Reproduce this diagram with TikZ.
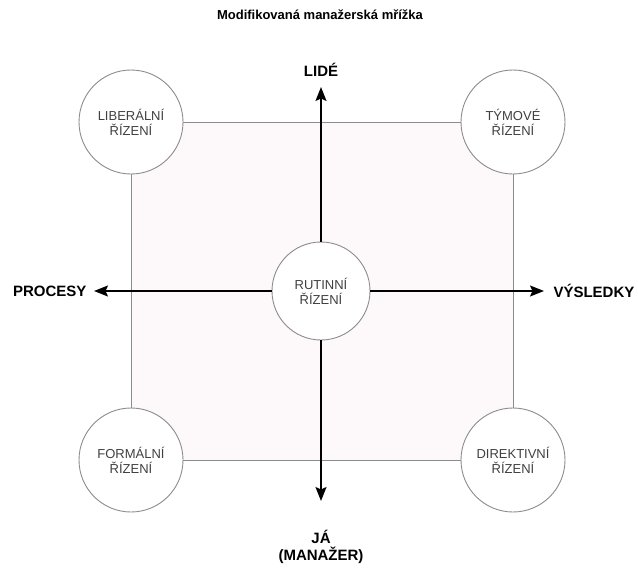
\documentclass[tikz,border=0pt]{standalone}
\usepackage{fontspec}
\setmainfont{Liberation Sans}
\usetikzlibrary{arrows.meta}
\definecolor{gridfill}{HTML}{FDF9FA}
\definecolor{gridline}{HTML}{8C8C8C}
\definecolor{labelgray}{HTML}{404040}

\begin{document}
\begin{tikzpicture}[x=1pt,y=-1pt,
    style/.style = {circle, draw=gridline, fill=white, line width=0.9pt,
                minimum size=#1, inner sep=0pt, outer sep=0pt,
                align=center, text=labelgray,
                font=\fontsize{13}{15}\selectfont},
    style/.default = 104pt,  % diameter of the corner circles
    axis/.style = {line width=1.5pt, -{Stealth[length=14pt,width=11pt,inset=2.5pt]}},
    side/.style = {draw=gridline, line width=0.9pt},
    tag/.style = {font=\bfseries\fontsize{15}{16.5}\selectfont, align=center}
                    ]
        \useasboundingbox (0,0) rectangle (638,570);
        \def\xl{131} \def\xr{513}
        \def\yt{122} \def\yb{460}
        \node[font=\bfseries\fontsize{13}{15}\selectfont] (title) at (320,15) {Modifikovaná manažerská mřížka};
        \fill[gridfill] (\xl,\yt) rectangle (\xr,\yb);
        \foreach \x/\y/\v/\t in {\xl/\yt/lib/{LIBERÁLNÍ\\ŘÍZENÍ}, \xr/\yt/tym/{TÝMOVÉ\\ŘÍZENÍ},
                                 \xl/\yb/for/{FORMÁLNÍ\\ŘÍZENÍ}, \xr/\yb/dir/{DIREKTIVNÍ\\ŘÍZENÍ}}
            \node[style] at (\x,\y) (\v) {\t};
        \node[style=98pt] at (321,291) (rut) {RUTINNÍ\\ŘÍZENÍ};
        \draw [side] (lib) -- (tym);
        \draw [side] (tym) -- (dir);
        \draw [side] (dir) -- (for);
        \draw [side] (for) -- (lib);
        \coordinate (up) at (321,87);
        \coordinate (down) at (321,501);
        \coordinate (left) at (94,291);
        \coordinate (right) at (544,291);
        \draw [axis] (rut) -- (up);
        \draw [axis] (rut) -- (down);
        \draw [axis] (rut) -- (left);
        \draw [axis] (rut) -- (right);
        \node[tag] (lide) at (321,70) {LIDÉ};
        \node[tag] (ja) at (321,547) {JÁ\\(MANAŽER)};
        \node[tag, anchor=east] (proc) at (90,291) {PROCESY};
        \node[tag, anchor=west] (vys) at (550,291) {VÝSLEDKY};
    \end{tikzpicture}
\end{document}
